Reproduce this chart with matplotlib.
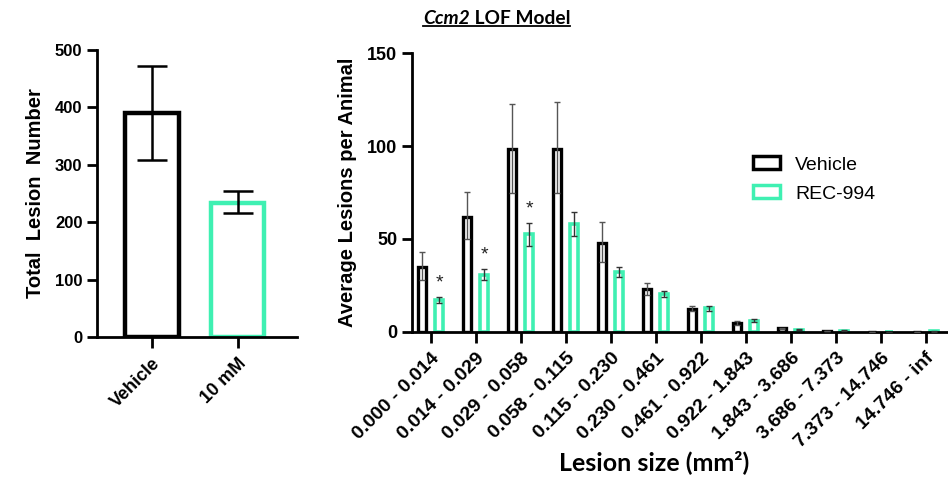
import matplotlib
matplotlib.use("Agg")
import matplotlib.pyplot as plt
from matplotlib.patches import Patch
from matplotlib.lines import Line2D
import numpy as np

plt.rcParams['font.family'] = ['Liberation Sans', 'DejaVu Sans']

# --- data: left panel (total lesion number)
total_groups = ['Vehicle', '10 mM']
total_means = [390, 234]
total_lo = [308, 216]
total_hi = [472, 255]

# --- data: right panel (lesions per animal by size bin)
size_bins = ['0.000 - 0.014', '0.014 - 0.029', '0.029 - 0.058', '0.058 - 0.115',
             '0.115 - 0.230', '0.230 - 0.461', '0.461 - 0.922', '0.922 - 1.843',
             '1.843 - 3.686', '3.686 - 7.373', '7.373 - 14.746', '14.746 - inf']
vehicle_mean = [35, 62, 98.5, 98.5, 47.8, 23, 12, 4.7, 1.8, 0.4, 0.0, 0.0]
vehicle_lo = [27.7, 49.8, 75, 75, 37.5, 20, 11, 3.6, 1.4, 0.3, 0.0, 0.0]
vehicle_hi = [43, 75.4, 122.5, 123.6, 58.9, 26.5, 13.8, 5.8, 2.2, 0.5, 0.0, 0.0]
rec_mean = [17.2, 30.4, 52.6, 58, 32, 20.2, 12.6, 5.9, 1.1, 0.5, 0.0, 0.2]
rec_lo = [15.2, 27.8, 46.3, 51.7, 29.6, 18.7, 11.4, 5.2, 0.8, 0.3, 0.0, 0.1]
rec_hi = [18.8, 33.8, 58.4, 64.3, 35, 21.8, 14, 6.6, 1.4, 0.7, 0.0, 0.3]
significant = [0, 1, 2]

green = '#3FF0B2'

fig = plt.figure(figsize=(9.48, 4.79), dpi=100)

# ---------------- left panel
ax1 = fig.add_axes([0.1023, 0.2965, 0.211, 0.599])
x1 = np.arange(len(total_groups))
ax1.bar(x1, total_means, width=0.62, facecolor='white',
        edgecolor=['black', green], linewidth=3.2, zorder=2)
err1 = [np.array(total_means) - np.array(total_lo), np.array(total_hi) - np.array(total_means)]
ax1.errorbar(x1, total_means, yerr=err1, fmt='none', ecolor='black',
             elinewidth=1.8, capsize=10.5, capthick=1.8, zorder=3)
ax1.set_xlim(-0.64, 1.69)
ax1.set_ylim(0, 500)
ax1.set_yticks([0, 100, 200, 300, 400, 500])
ax1.set_xticks(x1)
ax1.set_xticklabels(total_groups, rotation=45, ha='right', rotation_mode='anchor',
                    fontsize=13, fontweight='bold')
ax1.set_ylabel('Total  Lesion  Number', fontsize=14.5, fontweight='bold', labelpad=7)
for lab in ax1.get_yticklabels():
    lab.set_fontweight('bold')
    lab.set_fontsize(12)
ax1.spines['top'].set_visible(False)
ax1.spines['right'].set_visible(False)
for s in ['left', 'bottom']:
    ax1.spines[s].set_linewidth(2)
ax1.tick_params(axis='both', width=2, length=7)
ax1.tick_params(axis='x', length=8, pad=5)

# ---------------- right panel
ax2 = fig.add_axes([0.4346, 0.3075, 0.5643, 0.5812])
x2 = np.arange(len(size_bins))
off = 0.19
bw = 0.18
ax2.bar(x2 - off, vehicle_mean, width=bw, facecolor='white', edgecolor='black',
        linewidth=2.4, zorder=2)
ax2.bar(x2 + off, rec_mean, width=bw, facecolor='white', edgecolor=green,
        linewidth=2.6, zorder=2)
ev = [np.array(vehicle_mean) - np.array(vehicle_lo), np.array(vehicle_hi) - np.array(vehicle_mean)]
er = [np.array(rec_mean) - np.array(rec_lo), np.array(rec_hi) - np.array(rec_mean)]
ax2.errorbar(x2 - off, vehicle_mean, yerr=ev, fmt='none', ecolor='#555555',
             elinewidth=1.0, capsize=2.5, capthick=1.0, zorder=3)
ax2.errorbar(x2 + off, rec_mean, yerr=er, fmt='none', ecolor='#333333',
             elinewidth=1.0, capsize=2.5, capthick=1.0, zorder=3)
for i in significant:
    ax2.text(i + off, rec_hi[i] + 3, '*', ha='center', va='bottom',
             fontsize=14, color='#222222')
ax2.set_xlim(-0.42, 11.47)
ax2.set_ylim(0, 150)
ax2.set_yticks([0, 50, 100, 150])
ax2.set_xticks(x2)
ax2.set_xticklabels(size_bins, rotation=45, ha='right', rotation_mode='anchor',
                    fontsize=14, fontweight='bold')
for lab in ax2.get_yticklabels():
    lab.set_fontweight('bold')
    lab.set_fontsize(13)
ax2.set_ylabel('Average Lesions per Animal', fontsize=14.5, fontweight='bold', labelpad=7)
ax2.set_xlabel('Lesion size (mm²)', fontsize=18, fontweight='bold',
               family=['Lato', 'DejaVu Sans'])
ax2.xaxis.set_label_coords(0.452, -0.425)
ax2.spines['top'].set_visible(False)
ax2.spines['right'].set_visible(False)
for s in ['left', 'bottom']:
    ax2.spines[s].set_linewidth(2)
ax2.tick_params(axis='both', width=2, length=7)
ax2.tick_params(axis='x', length=8, pad=5)

handles = [Patch(facecolor='white', edgecolor='black', linewidth=2.5, label='Vehicle'),
           Patch(facecolor='white', edgecolor=green, linewidth=2.5, label='REC-994')]
ax2.legend(handles=handles, loc='upper left', bbox_to_anchor=(0.62, 0.665),
           frameon=False, fontsize=14, handlelength=1.35, handleheight=0.65,
           handletextpad=0.8, labelspacing=0.6, borderpad=0)

# ---------------- title with underline
t1 = fig.text(0.447, 0.962, 'Ccm2', fontsize=13.8, fontweight='bold', fontstyle='italic',
              family=['Lato', 'DejaVu Sans'], ha='left', va='center')
t2 = fig.text(0.447, 0.962, ' LOF Model', fontsize=13.8, fontweight='bold',
              family=['Lato', 'DejaVu Sans'], ha='left', va='center')
fig.canvas.draw()
r = fig.canvas.get_renderer()
b1 = t1.get_window_extent(r)
b2 = t2.get_window_extent(r)
total_w = b1.width + b2.width
start = 0.524 * fig.bbox.width - total_w / 2
t1.set_x(start / fig.bbox.width)
t2.set_x((start + b1.width) / fig.bbox.width)
y_line = (b1.y0 + 1) / fig.bbox.height
fig.add_artist(Line2D([start / fig.bbox.width, (start + total_w) / fig.bbox.width],
                      [y_line, y_line], color='black', linewidth=1.3,
                      transform=fig.transFigure))

fig.savefig('out.png', dpi=100)
